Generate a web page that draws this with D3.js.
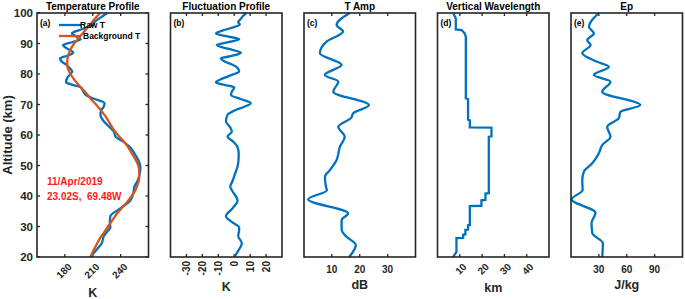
<!DOCTYPE html>
<html><head><meta charset="utf-8">
<script src="https://cdn.jsdelivr.net/npm/d3@7/dist/d3.min.js"></script>
<style>body{margin:0;background:#fff}svg{display:block;font-family:"Liberation Sans",Arial,sans-serif;font-weight:bold}</style>
</head><body><svg id="c" width="685" height="299"></svg>
<script>
// ---------- data ----------
const altTicks = [20,30,40,50,60,70,80,90,100];
const bgAlt  = [100,98,96,94,92,90,88,86,84,82,80,78,76,74,72,70,68,66,64,62,60,58,56,54,52,50,48,46,44,42,40,38,36,34,32,30,28,26,24,22,20];
const bgT    = [218,212,206.5,201,195.5,190,186,183.5,182.5,183,186,190.5,196,202,207.5,213.5,219,224,228,232,237,243,248,252,256,259,260,260,258.5,256,252,247,241,235.5,231,226.5,222,217.5,214,210.5,207.5];
const flAlt  = [100,99,98,97,96.2,95.2,94.3,93.3,92.4,91.4,90.5,89.5,88.3,87,86,85.1,84,83,82,80.8,79.8,78.8,77.2,76.3,75.6,74.2,73.1,71.8,70.4,69.2,68,66.6,64.4,62.5,61.1,59.5,58,56.2,54,51.8,49.5,47.4,45,43,41.5,38.5,36,33.4,31.5,29.7,28.5,26.9,24.5,22,20];
const rawT   = [225.7,220.8,216,211.8,210.6,203.3,194.8,187.6,191.6,197,188.4,178,182.6,189,182.5,174.8,177,181.8,185,187.9,185.5,182.7,181.2,190.2,197.2,199.9,202.5,212.1,222.7,221.7,219,218.3,222,228.5,232.8,234.3,242,249.5,254.8,259,261.3,260.6,258.3,254.8,254,250.4,240,229,228.4,228.9,226.1,222,219.7,213,207.5];
const fluct  = [7.7,5.5,4,2.5,3.5,-1,-7,-11.5,-5,3.1,-3,-11,-4,4.2,-1,-8.3,-5.5,-1,2,3.1,-1,-6,-11.5,-5,0,-1.5,-2,4,10.4,6,0,-4.2,-5.2,-2.5,-1.5,-4.2,-1,2,2.8,2.7,2,0.6,-1,-2.5,-1,2.1,-1,-5.2,-1.5,3.1,3,2.5,4.8,2.5,0];
const ampAlt = [100,96.1,93.9,90.6,86.8,83,79.7,77.5,74.2,69.8,67.1,65.7,62.7,59.4,56.2,51.8,48.5,46.3,43,41.9,38.9,34.3,32.1,28.9,26.7,23.9,20];
const tAmp   = [16.4,11.7,14,8.1,5.7,13.5,7.5,12.3,10.5,23.3,17.6,17,12.3,14.6,12.9,11.7,9.3,7.5,7.9,8.2,1.5,15.8,13.5,13.5,15.2,18.6,16.2];
const wlAlt  = [100,98.3,94.6,94.4,93.3,92.2,72,71.8,65,64.8,62.5,62.4,59.6,59.4,40.9,40.8,38.7,38.6,36.8,36.7,30.5,30.4,29,28.9,27.4,27.3,26.3,26.2,21.7,20];
const wLen   = [7,8.2,8.2,10.8,12.2,12.7,12.7,13.7,13.7,14.5,14.5,24.2,24.2,23,23,21.5,21.5,19.7,19.7,14.5,14.5,13.7,13.7,12.5,12.5,11.5,11.5,8.5,8.5,7];
const epAlt  = [100,95.5,93.3,91.1,89.5,86.8,84,82.4,79.7,77.5,74.2,69.8,67.6,65.5,62.7,59.4,56.7,54,50.7,48,45.2,42,38.9,34.5,31.2,27.8,24.5,20];
const ep     = [30,19.3,24.6,17.5,21.1,12.1,28.2,40.7,24.6,42.5,33.6,74.6,53.2,51.4,38.9,42.5,33.6,30,22.9,13.9,12.1,12.5,0.7,26.4,22.1,22.9,34.3,33.6];
const titles = ["Temperature Profile","Fluctuation Profile","T Amp","Vertical Wavelength","Ep"];
const units  = ["K","K","dB","km","J/kg"];
const panelTags = ["(a)","(b)","(c)","(d)","(e)"];
const xTicksA = [180,210,240], xTicksB = [-30,-20,-10,0,10,20], xTicksC = [10,20,30], xTicksD = [10,20,30,40], xTicksE = [30,60,90];
const legendLabels = ["Raw T","Background T"];
const noteLines = ["11/Apr/2019","23.02S,  69.48W"];

// ---------- layout ----------
const svg = d3.select("#c");
const BLUE="#0072BD", ORANGE="#D95319", FRAME="#262626";
const yTop=13, yBot=257, pw=111.5, step=133.5, left0=37;
const y = d3.scaleLinear().domain([20,100]).range([yBot,yTop]);
const panels = [
  {domain:[150,270], ticks:xTicksA, rot:-45, unitY:297},
  {domain:[-40,30],  ticks:xTicksB, rot:-90, unitY:291},
  {domain:[0,40],    ticks:xTicksC, rot:0,   unitY:288.5},
  {domain:[0,50],    ticks:xTicksD, rot:-45, unitY:292},
  {domain:[0,120],   ticks:xTicksE, rot:0,   unitY:288.5}
];
const xs = panels.map((p,i)=>d3.scaleLinear().domain(p.domain).range([left0+i*step, left0+i*step+pw]));

panels.forEach((p,i)=>{
  const x = xs[i], x0 = x.range()[0], x1 = x.range()[1];
  const g = svg.append("g");
  const tl = 3;
  p.ticks.forEach(t=>{
    g.append("line").attr("x1",x(t)).attr("x2",x(t)).attr("y1",yBot).attr("y2",yBot-tl).attr("stroke",FRAME).attr("stroke-width",1.3);
    g.append("line").attr("x1",x(t)).attr("x2",x(t)).attr("y1",yTop).attr("y2",yTop+tl).attr("stroke",FRAME).attr("stroke-width",1.3);
    let lab;
    if (p.rot===0){
      lab = g.append("text").attr("x",x(t)).attr("y",272.5).attr("text-anchor","middle");
    } else if (p.rot===-90){
      lab = g.append("text").attr("transform",`translate(${x(t)+0.5},261) rotate(-90)`).attr("text-anchor","end").attr("dy","0.35em");
    } else {
      lab = g.append("text").attr("transform",`translate(${x(t)+5},265) rotate(-45)`).attr("text-anchor","end").attr("dy","0.35em");
    }
    lab.attr("font-size",10).attr("fill",FRAME).text(t);
  });
  if (i===0){
    altTicks.forEach(a=>{
      g.append("line").attr("x1",x0).attr("x2",x0+tl).attr("y1",y(a)).attr("y2",y(a)).attr("stroke",FRAME).attr("stroke-width",1.3);
      g.append("line").attr("x1",x1).attr("x2",x1-tl).attr("y1",y(a)).attr("y2",y(a)).attr("stroke",FRAME).attr("stroke-width",1.3);
      g.append("text").attr("x",33).attr("y",y(a)).attr("dy","0.36em").attr("text-anchor","end").attr("font-size",11.5).attr("fill",FRAME).text(a);
    });
  }
  g.append("text").attr("x",(x0+x1)/2).attr("y",9.5).attr("text-anchor","middle").attr("font-size",10).attr("fill","#000").text(titles[i]);
  g.append("text").attr("x",(x0+x1)/2).attr("y",p.unitY).attr("text-anchor","middle").attr("font-size",12.5).attr("fill",FRAME).text(units[i]);
  g.append("text").attr("x",x0+3).attr("y",26).attr("font-size",8.5).attr("fill","#000").text(panelTags[i]);
});

const lineOf = (xsc, vals, alts, curve)=> d3.line().x((d,k)=>xsc(vals[k])).y((d,k)=>y(alts[k])).curve(curve)(alts);

svg.append("path").attr("d",lineOf(xs[0],rawT,flAlt,d3.curveMonotoneY)).attr("fill","none").attr("stroke",BLUE).attr("stroke-width",2.3);
svg.append("path").attr("d",lineOf(xs[0],bgT,bgAlt,d3.curveMonotoneY)).attr("fill","none").attr("stroke",ORANGE).attr("stroke-width",2.3);
svg.append("path").attr("d",lineOf(xs[1],fluct,flAlt,d3.curveMonotoneY)).attr("fill","none").attr("stroke",BLUE).attr("stroke-width",2.3);
svg.append("path").attr("d",lineOf(xs[2],tAmp,ampAlt,d3.curveMonotoneY)).attr("fill","none").attr("stroke",BLUE).attr("stroke-width",2.3);
svg.append("path").attr("d",lineOf(xs[3],wLen,wlAlt,d3.curveLinear)).attr("fill","none").attr("stroke",BLUE).attr("stroke-width",2.3);
svg.append("path").attr("d",lineOf(xs[4],ep,epAlt,d3.curveMonotoneY)).attr("fill","none").attr("stroke",BLUE).attr("stroke-width",2.3);

xs.forEach(x=>{
  svg.append("rect").attr("x",x.range()[0]).attr("y",yTop).attr("width",pw).attr("height",yBot-yTop).attr("fill","none").attr("stroke",FRAME).attr("stroke-width",1.6);
});

[[BLUE,25,28],[ORANGE,36,39]].forEach((d,k)=>{
  svg.append("line").attr("x1",59).attr("x2",81).attr("y1",d[1]).attr("y2",d[1]).attr("stroke",d[0]).attr("stroke-width",2.3);
  svg.append("text").attr("x",k===0?80:83).attr("y",d[2]).attr("font-size",8.5).attr("fill","#000").text(legendLabels[k]);
});
noteLines.forEach((t,k)=>{
  svg.append("text").attr("x",47).attr("y",185+k*15).attr("font-size",10).attr("fill","#ff1a1a").style("white-space","pre").text(t);
});
svg.append("text").attr("transform","translate(12,135) rotate(-90)").attr("text-anchor","middle").attr("font-size",13).attr("fill",FRAME).text("Altitude (km)");
</script></body></html>
